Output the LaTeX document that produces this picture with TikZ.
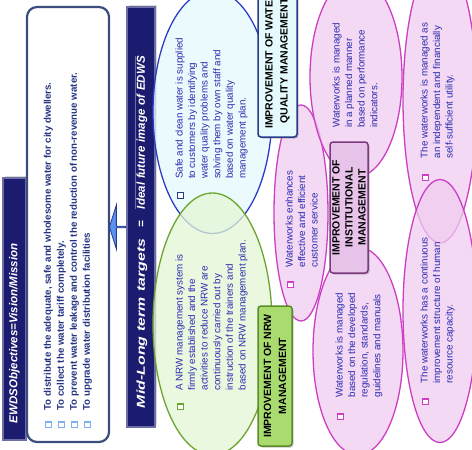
\documentclass[tikz,border=0pt]{standalone}
\usepackage{fontspec}
\setmainfont{Liberation Sans}
\usepackage{tikz}
\usetikzlibrary{arrows.meta,positioning,shapes.geometric,shapes.arrows,shadows,calc}
\usepackage{xcolor}
\definecolor{edwsNavy}{HTML}{1B1B6F}
\definecolor{edwsBarEdge}{HTML}{6E6EA6}
\definecolor{edwsBoxEdge}{HTML}{3B4D7C}
\definecolor{edwsText}{HTML}{243482}
\definecolor{edwsBullet}{HTML}{7FB0F2}
\definecolor{edwsArrow}{HTML}{5B92EF}
\definecolor{wqFill}{HTML}{E4FAFC}
\definecolor{wqEdge}{HTML}{2B3CC6}
\definecolor{wqBoxEdge}{HTML}{2A3A8A}
\definecolor{nrwFill}{HTML}{E3F6D6}
\definecolor{nrwEdge}{HTML}{6BA530}
\definecolor{nrwBox}{HTML}{A9DB6E}
\definecolor{nrwBoxEdge}{HTML}{5A8C28}
\definecolor{instFill}{HTML}{F0CCF0}
\definecolor{instEdge}{HTML}{CC3FC4}
\definecolor{instBox}{HTML}{E7C3EA}
\definecolor{instBoxEdge}{HTML}{7B3A7E}
\definecolor{ovalText}{HTML}{2A2AAE}
\newcommand{\sqbul}[1]{{\setlength{\fboxrule}{1.2pt}\setlength{\fboxsep}{0pt}\fcolorbox{#1}{white}{\rule{0pt}{4.5pt}\rule{4.5pt}{0pt}}}}
\newcommand{\ovl}[1]{{\setbox0\hbox{#1}\rlap{\color{edwsBarEdge}\rule[9.5pt]{\wd0}{0.7pt}}\box0}}

\begin{document}
\begin{tikzpicture}[x=1pt,y=-1pt,
  navybar/.style={draw=edwsBarEdge,line width=1.2pt,fill=edwsNavy,rotate=90,text=white,
    font=\fontsize{11.5}{13}\selectfont\bfseries\itshape,align=left,inner ysep=0pt,
    drop shadow={shadow xshift=2pt,shadow yshift=2pt,opacity=0.3}},
  oval/.style={ellipse,line width=1.3pt,fill opacity=0.75,inner sep=0pt},
  ovaltext/.style={rotate=90,anchor=north west,inner sep=0pt,text=ovalText,font=\fontsize{9.8}{12.6}\selectfont},
  headbox/.style={rotate=90,rounded corners=3pt,line width=1.5pt,align=center,inner sep=0pt,
    font=\fontsize{10.5}{15}\selectfont\bfseries,
    drop shadow={opacity=0.45,shadow xshift=1.5pt,shadow yshift=-1.5pt}}]
  \useasboundingbox (0,0) rectangle (472,450);
  \clip (0,0) rectangle (472,450);

  % objectives and targets
  \node[navybar,text width=228pt,inner xsep=17pt,minimum height=23pt] (visionBar) at (14.5,309) {EWDSObjectives=Vision/Mission};
  \node[draw=edwsBoxEdge,line width=2.2pt,fill=white,rounded corners=10pt,minimum width=82pt,minimum height=435pt] (missionBox) at (68,224.5) {};
  \node[rotate=90,anchor=north west,inner sep=0pt,text=edwsText,font=\fontsize{9.7}{13}\selectfont\bfseries] (missionText) at (41.5,428.5) {%
    \begin{tabular}{@{}l@{\hspace{11pt}}l@{}}
      \sqbul{edwsBullet} & To distribute the adequate, safe and wholesome water for city dwellers.\\
      \sqbul{edwsBullet} & To collect the water tariff completely.\\
      \sqbul{edwsBullet} & To prevent water leakage and control the reduction of non-revenue water.\\
      \sqbul{edwsBullet} & To upgrade water distribution facilities
    \end{tabular}};
  \node[single arrow,draw=wqBoxEdge,fill=edwsArrow,line width=0.8pt,minimum height=16pt,minimum width=44pt,
    single arrow head extend=11pt,single arrow tip angle=145,shape border rotate=180,inner sep=0pt,anchor=tip] (toMission) at (109,227) {};
  \node[navybar,text width=382pt,inner xsep=19pt,minimum height=28pt] (targetBar) at (141,217) {\scalebox{1.38}[1]{Mid-Long term targets}\quad=\quad\ovl{Ideal future image of EDWS}};

  % target ovals
  \node[oval,draw=wqEdge,fill=wqFill,minimum width=119pt,minimum height=243pt] (wqOval) at (212.5,112) {};
  \node[oval,draw=nrwEdge,fill=nrwFill,minimum width=119pt,minimum height=262pt] (nrwOval) at (212.5,324) {};
  \foreach \name/\cx/\cy/\w/\h in {
    serviceOval/301/213/54/216,
    planOval/356/77/92/200,
    utilityOval/440/100/74/286,
    hrOval/440/311/74/263,
    ruleOval/358/351/90/208}
  {
    \node[oval,draw=instEdge,fill=instFill,minimum width=\w pt,minimum height=\h pt] (\name) at (\cx,\cy) {};
  }

  \node[ovaltext] (wqText) at (173.5,199) {%
    \begin{tabular}{@{}l@{\hspace{13pt}}l@{}}
      \sqbul{wqBoxEdge} & Safe and clean water is supplied\\
      & to customers by identifying\\
      & water quality problems and\\
      & solving them by own staff and\\
      & based on water quality\\
      & management plan.
    \end{tabular}};
  \node[ovaltext] (nrwText) at (173.5,410.5) {%
    \begin{tabular}{@{}l@{\hspace{13pt}}l@{}}
      \sqbul{nrwEdge} & A NRW management system is\\
      & firmly established and the\\
      & activities to reduce NRW are\\
      & continuously carried out by\\
      & instruction of the trainers and\\
      & based on NRW management plan.
    \end{tabular}};
  \node[ovaltext] (serviceText) at (283.5,288.5) {%
    \begin{tabular}{@{}l@{\hspace{14pt}}l@{}}
      \sqbul{instEdge} & Waterworks enhances\\
      & effective and efficient\\
      & customer service
    \end{tabular}};
  \node[ovaltext] (planText) at (330.5,128) {%
    \begin{tabular}{@{}l@{}}
      Waterworks is managed\\
      in a planned manner\\
      based on performance\\
      indicators.
    \end{tabular}};
  \node[ovaltext] (utilityText) at (418.5,181.5) {%
    \begin{tabular}{@{}l@{\hspace{16pt}}l@{}}
      \sqbul{instEdge} & The waterworks is managed as\\
      & an independent and financially\\
      & self-sufficient utility.
    \end{tabular}};
  \node[ovaltext] (hrText) at (418.5,405.5) {%
    \begin{tabular}{@{}l@{\hspace{15pt}}l@{}}
      \sqbul{instEdge} & The waterworks has a continuous\\
      & improvement structure of human\\
      & resource capacity.
    \end{tabular}};
  \node[ovaltext] (ruleText) at (333.5,420.5) {%
    \begin{tabular}{@{}l@{\hspace{16pt}}l@{}}
      \sqbul{instEdge} & Waterworks is managed\\
      & based on the developed\\
      & regulation, standards,\\
      & guidelines and manuals
    \end{tabular}};

  % headings
  \node[headbox,draw=wqBoxEdge,fill=wqFill,minimum width=152pt,minimum height=39pt] (wqHead) at (277.5,61) {IMPROVEMENT OF WATER\\QUALITY MANAGEMENT};
  \node[headbox,draw=nrwBoxEdge,fill=nrwBox,minimum width=140pt,minimum height=34pt] (nrwHead) at (275,376) {IMPROVEMENT OF NRW\\MANAGEMENT};
  \node[headbox,draw=instBoxEdge,fill=instBox,minimum width=131pt,minimum height=38pt,font=\fontsize{10.5}{13}\selectfont\bfseries] (instHead) at (349,207.5) {IMPROVEMENT OF\\INSTITUTIONAL\\MANAGEMENT};
\end{tikzpicture}
\end{document}
